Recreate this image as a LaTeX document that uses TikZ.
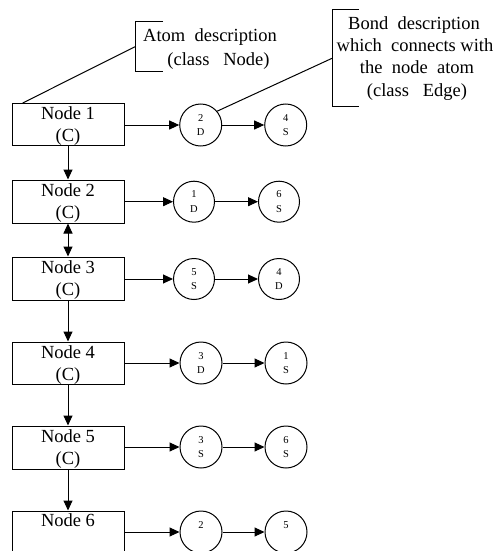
\documentclass[tikz,border=0pt]{standalone}
\usepackage{fontspec}
\setmainfont{Liberation Serif}
\usetikzlibrary{arrows.meta}

\tikzset{
  atombox/.style={draw, line width=1pt, minimum width=112pt, minimum height=#1, inner sep=0pt},
  atombox/.default=43pt,
  big/.style={font=\fontsize{18.5}{22}\selectfont, inner sep=0pt, anchor=base},
  bond/.style={draw, circle, line width=1pt, minimum size=#1, inner sep=0pt, align=center,
               font=\fontsize{10.5}{14.5}\selectfont},
  bond/.default=41pt,
  link/.style={line width=1pt, -{Triangle[length=10pt,width=9pt]}},
  twolink/.style={line width=1pt, {Triangle[length=10pt,width=9pt]}-{Triangle[length=10pt,width=9pt]}},
  note/.style={line width=1pt},
}

\begin{document}
\begin{tikzpicture}[x=1pt, y=-1pt]
  \useasboundingbox (0,0) rectangle (496,551);
  \clip (0,0) rectangle (496,551);

  % atom list (class Node)
  \node[atombox=42pt] (n1) at (68,124) {};
  \node[atombox] (n2) at (68,201.5) {};
  \node[atombox] (n3) at (68,278.5) {};
  \node[atombox=42pt] (n4) at (68,363) {};
  \node[atombox] (n5) at (68,447.5) {};
  \node[atombox] (n6) at (68,532.5) {};

  \foreach \k in {1,...,5}{
    \node[big] at ([yshift=-16.5pt]n\k.north) {Node \k};
    \node[big] at ([yshift=-38.5pt]n\k.north) {(C)};
  }
  \node[big] at ([yshift=-15.5pt]n6.north) {Node 6};

  % bond lists (class Edge)
  \node[bond=42pt] (b11) at (200.7,125) {2\\D};
  \node[bond=42pt] (b12) at (285.7,125) {4\\S};
  \node[bond] (b21) at (194,201.7) {1\\D};
  \node[bond] (b22) at (279,201.7) {6\\S};
  \node[bond] (b31) at (194,279) {5\\S};
  \node[bond] (b32) at (279,279) {4\\D};
  \node[bond=42pt] (b41) at (201,363) {3\\D};
  \node[bond=42pt] (b42) at (286,363) {1\\S};
  \node[bond=42pt] (b51) at (201,447) {3\\S};
  \node[bond=42pt] (b52) at (286,447) {6\\S};
  \node[bond=42pt] (b61) at (201,532) {2\\\phantom{D}};
  \node[bond=42pt] (b62) at (286,532) {5\\\phantom{D}};

  % connectors
  \foreach \k in {1,...,6}{
    \draw[link] (n\k.east |- b\k1.west) -- (b\k1);
    \draw[link] (b\k1) -- (b\k2);
  }
  \draw[link] (n1) -- (n2);
  \draw[twolink] (n2) -- (n3);
  \draw[link] (n3) -- (n4);
  \draw[link] (n4) -- (n5);
  \draw[link] (n5) -- (n6);

  % callout: atom description
  \coordinate (atomtop) at (163,21.7);
  \coordinate (atommid) at (135,46.7);
  \coordinate (atombot) at (163,71.7);
  \draw[note] (atomtop) -- (135,21.7) -- (135,71.7) -- (atombot);
  \draw[note] (22.7,103) -- (atommid);
  \node[big] (atomtxt1) at (210,41.7) {Atom\ \ description};
  \node[big] (atomtxt2) at (218.5,65) {(class\ \ \ Node)};

  % callout: bond description
  \coordinate (bondtop) at (359,9.3);
  \coordinate (bondmid) at (332.7,58);
  \coordinate (bondbot) at (359,106);
  \draw[note] (bondtop) -- (332.7,9.3) -- (332.7,106) -- (bondbot);
  \draw[note] (b11.40) -- (bondmid);
  \node[big] (bondtxt1) at (414,29.3) {Bond\ \ description};
  \node[big] (bondtxt2) at (415,51.7) {which\ \ connects with};
  \node[big] (bondtxt3) at (417,73.3) {the\ \ node\ \ atom};
  \node[big] (bondtxt4) at (417,96.7) {(class\ \ \ Edge)};
\end{tikzpicture}
\end{document}
